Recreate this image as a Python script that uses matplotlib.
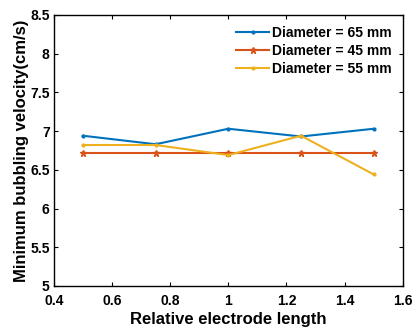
import numpy as np
import matplotlib
matplotlib.use("Agg")
import matplotlib.pyplot as plt

plt.rcParams['font.family'] = ['Liberation Sans', 'DejaVu Sans']
plt.rcParams['font.weight'] = 'bold'

# data
rel_length = [0.5, 0.75, 1.0, 1.25, 1.5]
d65 = [6.94, 6.83, 7.03, 6.93, 7.03]
d45 = [6.72, 6.72, 6.72, 6.72, 6.72]
d55 = [6.82, 6.82, 6.69, 6.94, 6.44]

fig = plt.figure(figsize=(4.14, 3.31), dpi=100)
ax = fig.add_axes([0.130, 0.136, 0.843, 0.819])

ax.plot(rel_length, d65, color='#0072BD', lw=1.5, marker='.', ms=4, label='Diameter = 65 mm')
ax.plot(rel_length, d45, color='#D95319', lw=1.5, marker='*', ms=5, label='Diameter = 45 mm')
ax.plot(rel_length, d55, color='#EDB120', lw=1.5, marker='.', ms=4, label='Diameter = 55 mm')

ax.set_xlim(0.4, 1.6)
ax.set_ylim(5, 8.5)
ax.set_xticks([0.4, 0.6, 0.8, 1.0, 1.2, 1.4, 1.6])
ax.set_xticklabels(['0.4', '0.6', '0.8', '1', '1.2', '1.4', '1.6'])
ax.set_yticks([5, 5.5, 6, 6.5, 7, 7.5, 8, 8.5])
ax.set_yticklabels(['5', '5.5', '6', '6.5', '7', '7.5', '8', '8.5'])
ax.tick_params(direction='in', top=True, right=True, labelsize=10, length=3, width=0.8)
ax.tick_params(axis='x', pad=6)
ax.tick_params(axis='y', pad=3)
for s in ax.spines.values():
    s.set_linewidth(1.0)

ax.set_xlabel('Relative electrode length', fontsize=12, fontweight='bold', labelpad=3)
ax.set_ylabel('Minimum bubbling velocity(cm/s)', fontsize=12, fontweight='bold', labelpad=1)

leg = ax.legend(loc='upper right', frameon=False, fontsize=10, handlelength=2.4,
                handletextpad=0.2, labelspacing=0.3, borderaxespad=0.4)

fig.savefig('out.png', dpi=100)
